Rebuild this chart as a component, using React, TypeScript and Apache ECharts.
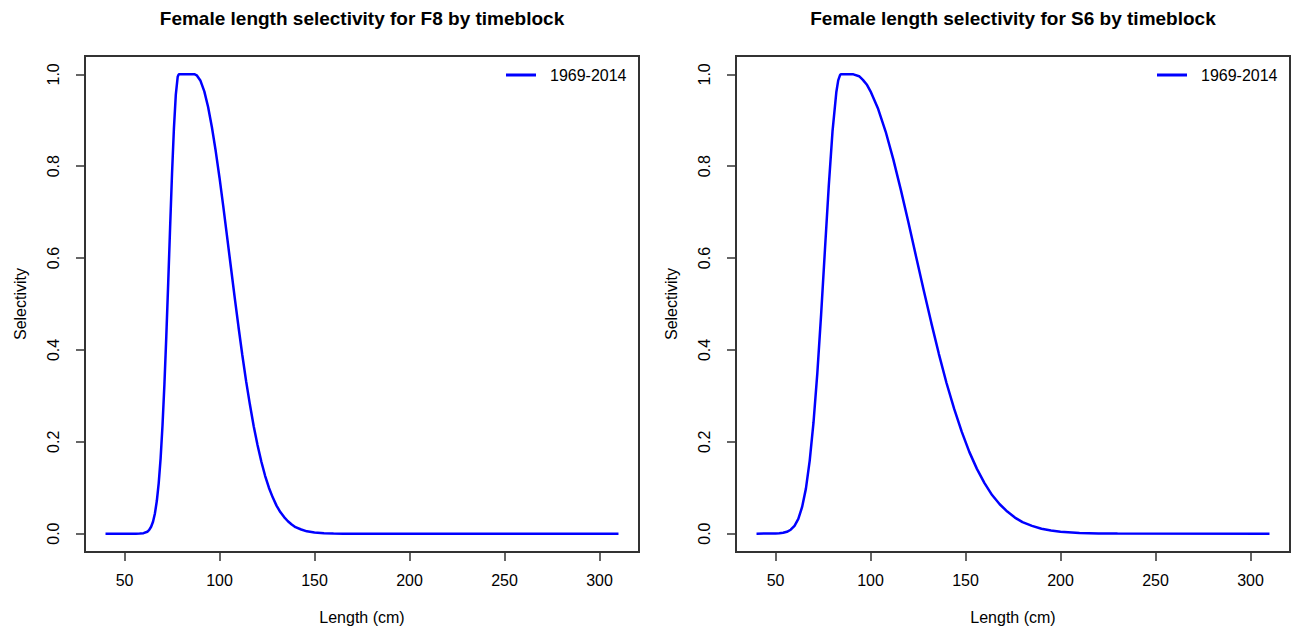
import React, { useEffect, useRef } from "react";
import * as echarts from "echarts";

const TITLES = ["Female length selectivity for F8 by timeblock", "Female length selectivity for S6 by timeblock"];
const SERIES_NAME = "1969-2014";
const X_TICKS = [50, 100, 150, 200, 250, 300];
const Y_TICKS = [0, 0.2, 0.4, 0.6, 0.8, 1.0];

const F8_LEN = [40, 56, 58, 60, 62, 63, 64, 65, 66, 67, 68, 69, 70, 71, 72, 73, 74, 75, 76, 77, 78, 78.5,
  87, 88, 90, 92, 94, 96, 98, 100, 102, 104, 106, 108, 110, 112, 114, 116, 118, 120, 122, 124, 126, 128, 130, 132, 134, 136, 138, 140,
  143, 146, 150, 155, 160, 165, 310];
const F8_SEL = [0, 0, 0.0002, 0.001, 0.004, 0.008, 0.015, 0.026, 0.044, 0.071, 0.11, 0.164, 0.236, 0.325, 0.43, 0.546, 0.667, 0.783, 0.882, 0.956, 0.995, 1.0,
  1.0, 0.998, 0.986, 0.963, 0.929, 0.885, 0.833, 0.775, 0.712, 0.646, 0.58, 0.514, 0.45, 0.389, 0.332, 0.281, 0.234, 0.193, 0.157, 0.126, 0.1, 0.079, 0.061, 0.047, 0.036, 0.027, 0.02, 0.014,
  0.009, 0.005, 0.0025, 0.0009, 0.0003, 0, 0];

const S6_LEN = [40, 50, 52, 54, 56, 58, 60, 62, 64, 66, 68, 70, 72, 74, 76, 78, 80, 82, 83, 84, 84.4,
  91, 94, 96, 98, 100, 104, 108, 112, 116, 120, 124, 128, 132, 136, 140, 144, 148, 152, 156, 160, 164, 168, 172, 176, 180, 185, 190, 195, 200, 210, 220, 230, 310];
const S6_SEL = [0, 0.0003, 0.0008, 0.0018, 0.004, 0.0085, 0.017, 0.032, 0.058, 0.098, 0.159, 0.242, 0.349, 0.477, 0.617, 0.755, 0.876, 0.961, 0.987, 0.999, 1.0,
  1.0, 0.996, 0.988, 0.978, 0.963, 0.925, 0.875, 0.815, 0.748, 0.677, 0.603, 0.53, 0.459, 0.391, 0.328, 0.272, 0.222, 0.178, 0.141, 0.11, 0.084, 0.064, 0.048, 0.035, 0.025, 0.017, 0.0106, 0.0066, 0.004, 0.0014, 0.0004, 0.0001, 0];

const FONT = "'Liberation Sans', Arial, Helvetica, sans-serif";

export default function App() {
  const ref = useRef<HTMLDivElement>(null);
  useEffect(() => {
    if (!ref.current) return;
    const chart = echarts.init(ref.current, undefined, { renderer: "svg" });
    const grids = [
      { left: 85, top: 56, width: 554, height: 496 },
      { left: 736, top: 56, width: 554, height: 496 },
    ];
    const pairs = (xs: number[], ys: number[]) => xs.map((x, i) => [x, ys[i]]);
    const datas = [pairs(F8_LEN, F8_SEL), pairs(S6_LEN, S6_SEL)];
    const option: any = {
      animation: false,
      backgroundColor: "#fff",
      textStyle: { fontFamily: FONT },
      title: grids.map((g, i) => ({
        text: TITLES[i],
        left: g.left + g.width / 2,
        top: 9,
        padding: 0,
        textAlign: "center",
        textStyle: { fontSize: 19, fontWeight: "bold", color: "#000", fontFamily: FONT },
      })),
      legend: grids.map((g) => ({
        data: [{ name: SERIES_NAME, icon: "rect" }],
        left: g.left + 421,
        top: 67,
        padding: 0,
        itemWidth: 30,
        itemHeight: 3,
        selectedMode: false,
        itemStyle: { color: "#0000FF", borderWidth: 0 },
        textStyle: { fontSize: 16, color: "#000", fontFamily: FONT, padding: [0, 0, 0, 9] },
      })),
      grid: grids.map((g) => ({
        ...g,
        show: true,
        borderColor: "#333",
        borderWidth: 2,
        backgroundColor: "transparent",
        containLabel: false,
      })),
      xAxis: grids.map((_, i) => ({
        type: "value",
        gridIndex: i,
        min: 29.2,
        max: 320.8,
        name: "Length (cm)",
        nameLocation: "middle",
        nameGap: 57,
        nameTextStyle: { fontSize: 16, color: "#000", fontFamily: FONT },
        axisLine: { show: false, onZero: false },
        splitLine: { show: false },
        axisTick: { show: true, length: 9, customValues: X_TICKS, lineStyle: { color: "#333", width: 1.5 } },
        axisLabel: { customValues: X_TICKS, fontSize: 16, color: "#000", margin: 20, fontFamily: FONT },
      })),
      yAxis: grids.map((_, i) => ({
        type: "value",
        gridIndex: i,
        min: -0.04,
        max: 1.04,
        name: "Selectivity",
        nameLocation: "middle",
        nameGap: 57,
        nameTextStyle: { fontSize: 16, color: "#000", fontFamily: FONT },
        axisLine: { show: false, onZero: false },
        splitLine: { show: false },
        axisTick: { show: true, length: 9, customValues: Y_TICKS, lineStyle: { color: "#333", width: 1.5 } },
        axisLabel: {
          customValues: Y_TICKS,
          rotate: 90,
          fontSize: 16,
          color: "#000",
          margin: 24,
          fontFamily: FONT,
          formatter: (v: number) => v.toFixed(1),
        },
      })),
      series: datas.map((d, i) => ({
        type: "line",
        name: SERIES_NAME,
        xAxisIndex: i,
        yAxisIndex: i,
        data: d,
        symbol: "none",
        showSymbol: false,
        smooth: false,
        lineStyle: { color: "#0000FF", width: 2.5 },
        itemStyle: { color: "#0000FF" },
      })),
    };
    chart.setOption(option);
    return () => chart.dispose();
  }, []);
  return <div ref={ref} style={{ position: "absolute", left: 0, top: 0, width: 1291, height: 630 }} />;
}
